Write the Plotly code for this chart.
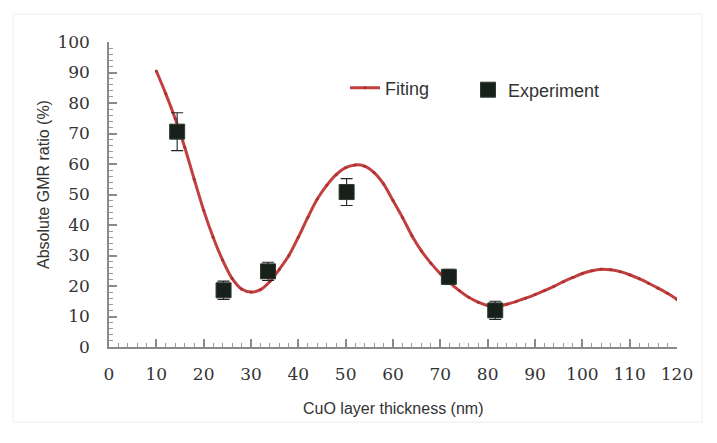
import plotly.graph_objects as go

# Fitting curve
fit_x = [10, 12, 14, 16, 18, 20, 22, 24, 26, 28, 30, 32, 34, 36, 38, 40, 42, 44, 46, 48,
         50, 52, 54, 56, 58, 60, 62, 64, 66, 68, 70, 72, 74, 76, 78, 80, 82, 84, 86, 88,
         90, 92, 94, 96, 98, 100, 102, 104, 106, 108, 110, 112, 114, 116, 118, 120]
fit_y = [90.5, 83.0, 74.8, 65.5, 55.0, 44.8, 36.0, 28.5, 22.5, 19.0, 18.0, 18.8, 21.5, 25.5, 30.0, 36.0, 42.5, 48.5, 53.0, 56.5,
         58.8, 59.7, 59.3, 57.2, 53.5, 48.0, 42.5, 36.5, 31.5, 27.5, 24.0, 21.0, 18.5, 16.3, 14.7, 13.6, 13.2, 14.0, 14.9, 16.0,
         17.2, 18.5, 19.9, 21.4, 22.8, 24.1, 25.0, 25.5, 25.3, 24.7, 23.7, 22.4, 20.9, 19.3, 17.6, 15.6]

# Experimental points
exp_x = [14.4, 24.2, 33.6, 50.2, 71.8, 81.6]
exp_y = [70.6, 18.6, 24.8, 50.8, 23.0, 12.0]
exp_err = [6.2, 3.0, 3.0, 4.4, 2.5, 3.0]

x_ticks = list(range(0, 121, 10))
y_ticks = list(range(0, 101, 10))

SERIF = "DejaVu Serif"
SANS = "Liberation Sans, Arial, sans-serif"

fig = go.Figure()

fig.add_trace(go.Scatter(
    x=fit_x, y=fit_y, mode="lines+markers", name="Fiting",
    line=dict(color="#c1403f", width=3, shape="spline", smoothing=0.8),
    marker=dict(color="#a83030", size=3),
    legend="legend",
))
fig.add_trace(go.Scatter(
    x=exp_x, y=exp_y, mode="markers", name="Experiment",
    marker=dict(symbol="square", size=15, color="#18201c",
                line=dict(color="#2a3a30", width=1)),
    error_y=dict(type="data", array=exp_err, visible=True,
                 color="#222222", thickness=1.1, width=6),
    legend="legend2",
))

axis_common = dict(
    showgrid=False, zeroline=False, showline=True, linecolor="#8a8a8a", linewidth=1.5,
    ticks="inside", ticklen=8, tickwidth=1.5, tickcolor="#8a8a8a",
    tickfont=dict(family=SERIF, size=17, color="#333333"),
    minor=dict(ticks="inside", ticklen=4, tickwidth=1, tickcolor="#9a9a9a", dtick=2),
)

fig.update_xaxes(range=[0, 120], tickvals=x_ticks, ticklabelstandoff=11, **axis_common)
fig.update_yaxes(range=[0, 100], tickvals=y_ticks, ticklabelstandoff=14, **axis_common)

L, R, T, B = 109, 40, 42, 96
pw, ph = 717 - L - R, 443 - T - B

def px2paper_x(px):
    return (px - L) / pw

def px2paper_y(py):
    return (443 - B - py) / ph

fig.add_shape(type="rect", xref="paper", yref="paper",
              x0=px2paper_x(13), x1=px2paper_x(702), y0=px2paper_y(422), y1=px2paper_y(14),
              line=dict(color="#ececec", width=1), layer="below")

fig.add_annotation(text="CuO layer thickness (nm)", xref="paper", yref="paper",
                   x=px2paper_x(393), y=px2paper_y(408), showarrow=False,
                   xanchor="center", yanchor="middle",
                   font=dict(family=SANS, size=16, color="#333333"))
fig.add_annotation(text="Absolute GMR ratio (%)", xref="paper", yref="paper",
                   x=px2paper_x(43), y=px2paper_y(185), showarrow=False, textangle=-90,
                   xanchor="center", yanchor="middle",
                   font=dict(family=SANS, size=16, color="#333333"))

leg_common = dict(bgcolor="rgba(0,0,0,0)", xanchor="left", yanchor="middle",
                  font=dict(family=SANS, size=18, color="#333333"))

fig.update_layout(
    width=717, height=443,
    margin=dict(l=L, r=R, t=T, b=B),
    paper_bgcolor="white", plot_bgcolor="white",
    showlegend=True,
    legend=dict(x=px2paper_x(345), y=px2paper_y(88), **leg_common),
    legend2=dict(x=px2paper_x(468), y=px2paper_y(90), **leg_common),
)

fig.write_html("out.html")
